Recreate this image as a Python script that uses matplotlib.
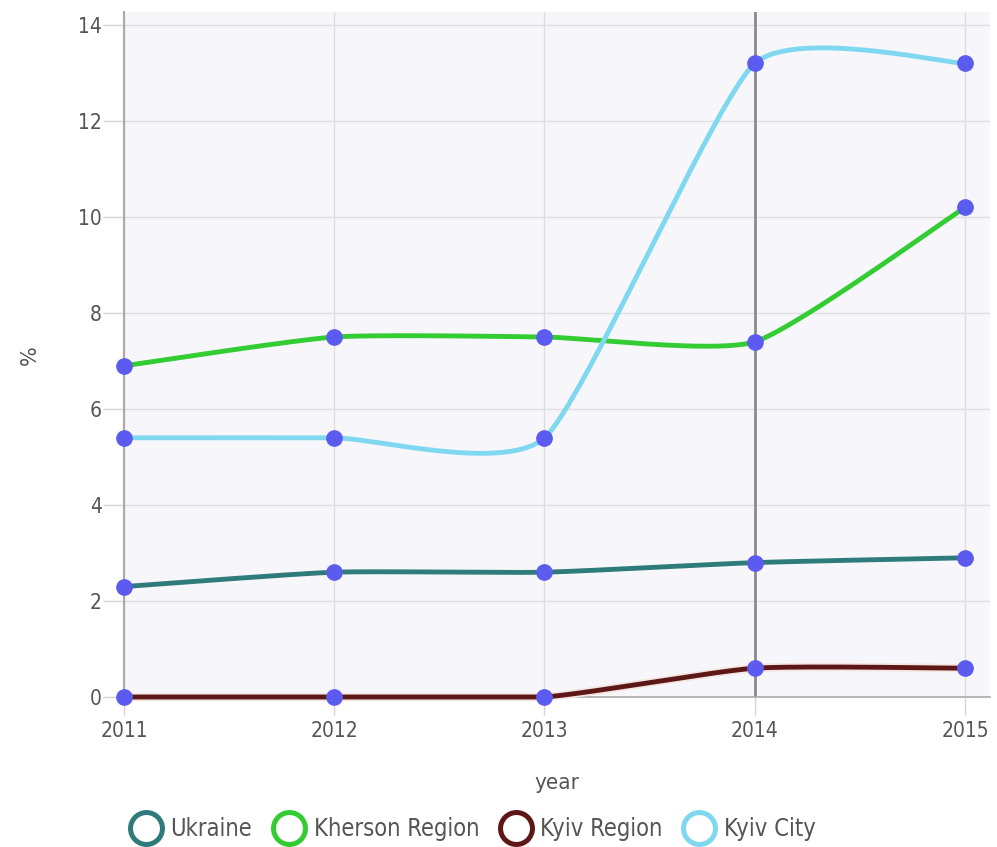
import numpy as np
import matplotlib
matplotlib.use("Agg")
import matplotlib.pyplot as plt
from matplotlib.lines import Line2D
import matplotlib.patheffects as pe

years = [2011, 2012, 2013, 2014, 2015]
series_names = ["Ukraine", "Kherson Region", "Kyiv Region", "Kyiv City"]
ukraine = [2.3, 2.6, 2.6, 2.8, 2.9]
kherson = [6.9, 7.5, 7.5, 7.4, 10.2]
kyiv_region = [0.0, 0.0, 0.0, 0.6, 0.6]
kyiv_city = [5.4, 5.4, 5.4, 13.2, 13.2]
colors = ["#2f7b7b", "#33cc33", "#5e1717", "#80d8f0"]
yticks = [0, 2, 4, 6, 8, 10, 12, 14]

plt.rcParams['font.family'] = ['DejaVu Sans']
TXT = "#555555"


def cardinal(x, y, scale=0.56, n=60):
    x = np.asarray(x, float)
    y = np.asarray(y, float)
    xp = np.concatenate([[x[0]], x, [x[-1]]])
    yp = np.concatenate([[y[0]], y, [y[-1]]])
    mx = scale * (xp[2:] - xp[:-2]) / 2
    my = scale * (yp[2:] - yp[:-2]) / 2
    X, Y = [], []
    t = np.linspace(0, 1, n)
    h00 = 2 * t**3 - 3 * t**2 + 1
    h10 = t**3 - 2 * t**2 + t
    h01 = -2 * t**3 + 3 * t**2
    h11 = t**3 - t**2
    for i in range(len(x) - 1):
        X.append(h00 * x[i] + h10 * mx[i] + h01 * x[i + 1] + h11 * mx[i + 1])
        Y.append(h00 * y[i] + h10 * my[i] + h01 * y[i + 1] + h11 * my[i + 1])
    return np.concatenate(X), np.maximum(np.concatenate(Y), 0)


fig = plt.figure(figsize=(9.97, 8.47), dpi=100)
ax = fig.add_axes([124 / 997, 1 - 697 / 847, 866 / 997, 685 / 847])
ax.set_facecolor("#f7f7fb")

ax.set_xlim(2011, 2015 + 25 / 210)
ax.set_ylim(0, 14 + 13 / 48)

ax.set_yticks(yticks)
ax.set_xticks(years)
ax.set_xticklabels([str(y) for y in years])
ax.grid(True, color="#dedede", linewidth=1.0)
ax.set_axisbelow(True)
for s in ["top", "right"]:
    ax.spines[s].set_visible(False)
ax.spines["left"].set_color("#aaaaaa")
ax.spines["left"].set_linewidth(1.5)
ax.spines["bottom"].set_color("#aaaaaa")
ax.spines["bottom"].set_linewidth(1.2)
ax.tick_params(axis="x", colors="#d4d4d4", length=13, width=1, pad=4,
               labelsize=15, labelcolor=TXT)
ax.tick_params(axis="y", colors="#d4d4d4", length=15, width=1, pad=1,
               labelsize=15, labelcolor=TXT)
for lab in ax.get_xticklabels() + ax.get_yticklabels():
    lab.set_fontstretch("condensed")

ax.axvline(2014, color="#8a8a8a", linewidth=2, zorder=1.5)

data = [ukraine, kherson, kyiv_region, kyiv_city]
for name, vals, c in zip(series_names, data, colors):
    sx, sy = cardinal(years, vals)
    effects = [pe.withStroke(linewidth=6, foreground="#f3e6e0")] if name == "Kyiv Region" else None
    ax.plot(sx, sy, color=c, linewidth=3.5, solid_capstyle="round", zorder=3,
            clip_on=False, path_effects=effects)
    ax.plot(years, vals, linestyle="none", marker="o", markersize=11,
            color="#5b5bf0", zorder=4, clip_on=False)

fig.text(30 / 997, 1 - 355 / 847, "%", rotation=90, fontsize=15, color=TXT,
         ha="center", va="center")
ax.set_xlabel("year", fontsize=16, color=TXT, labelpad=23, fontstretch="condensed")

handles = [Line2D([], [], linestyle="none", marker="o", markersize=23,
                  markerfacecolor="none", markeredgecolor=c, markeredgewidth=3.6)
           for c in colors]
leg = fig.legend(handles, series_names, loc="center", bbox_to_anchor=(472 / 997, 1 - 829 / 847),
                 ncol=4, frameon=False, fontsize=17, handletextpad=0.3,
                 columnspacing=0.8, handlelength=1.5)
for t in leg.get_texts():
    t.set_color(TXT)
    t.set_fontstretch("condensed")

fig.savefig("out.png", dpi=100, facecolor="white")
